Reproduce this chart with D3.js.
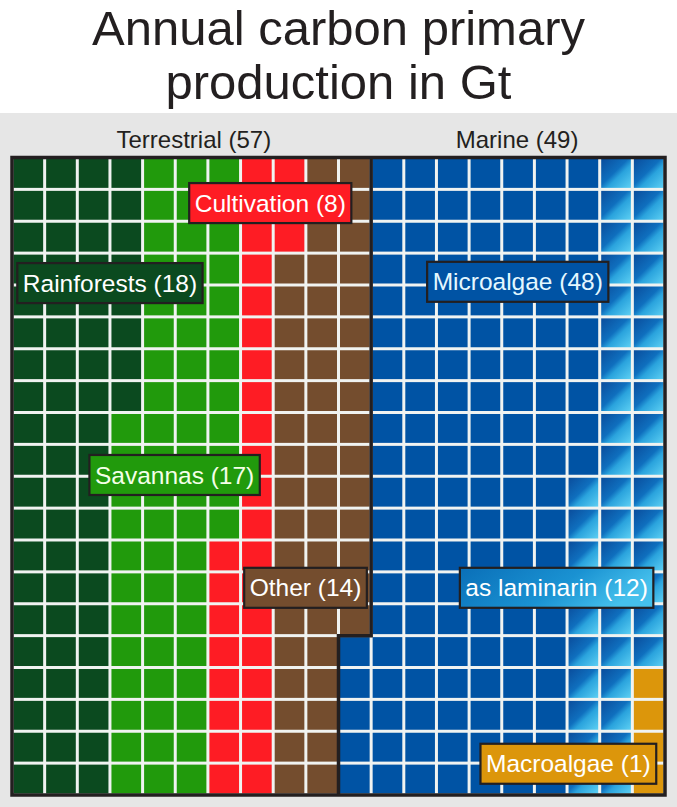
<!DOCTYPE html>
<html><head><meta charset="utf-8">
<script src="https://cdn.jsdelivr.net/npm/d3@7"></script>
<style>body{margin:0;background:#fff}svg{display:block}text{font-family:"Liberation Sans",Arial,Helvetica,sans-serif}</style>
</head><body><svg id="c" width="677" height="807"></svg>
<script>
// ---- data ----
const titleLines = ["Annual carbon primary", "production in Gt"];
const groups = ["Terrestrial", "Marine"];
const groupValues = [57, 49];
const categories = ["Rainforests", "Savannas", "Cultivation", "Other", "Microalgae", "as laminarin", "Macroalgae"];
const categoryValues = [18, 17, 8, 14, 48, 12, 1];
// cells of the 20 x 20 waffle each part fills (column-major fill)
const cellCounts = [68, 64, 31, 52, 135, 46, 4];
const cellGroup = [0, 0, 0, 0, 1, 1, 1];
const gridCols = 20, gridRows = 20;

// ---- layout / style ----
const W = 677, H = 807;
const colors = ["#0b4a1f", "#219a0c", "#fe1c24", "#744d2e", "#0053a4", "url(#lamCell)", "#dc960b"];
const labelFills = ["#0b4a1f", "#219a0c", "#fe1c24", "#744d2e", "#0053a4", "url(#lamLabel)", "#dc960b"];
const labelTextColors = ["#fff", "#f4ffe8", "#fff", "#fff", "#e4f8ff", "#fff", "#fff"];
const labelAnchors = [[3.0, 3.94], [4.98, 9.96], [7.91, 1.43], [8.99, 13.5], [15.49, 3.9], [16.68, 13.5], [17.04, 19.02]];
const groupAnchors = [[5.57, -0.3], [15.47, -0.3]];
const ink = "#231f20";

const svg = d3.select("#c");
const defs = svg.append("defs");
const g1 = defs.append("linearGradient").attr("id", "lamCell")
  .attr("x1", 0).attr("y1", 0).attr("x2", 1).attr("y2", 1);
[[0, "#0a4d9c"], [0.45, "#0f6fbe"], [0.6, "#2aa3dd"], [1, "#5ccff3"]]
  .forEach(s => g1.append("stop").attr("offset", s[0]).attr("stop-color", s[1]));
const g2 = defs.append("linearGradient").attr("id", "lamLabel")
  .attr("x1", 0).attr("y1", 0).attr("x2", 1).attr("y2", 0.3);
[[0, "#0a6fb8"], [0.6, "#1a92d2"], [1, "#45c0ec"]]
  .forEach(s => g2.append("stop").attr("offset", s[0]).attr("stop-color", s[1]));

// title
svg.append("g").selectAll("text").data(titleLines).join("text")
  .attr("x", W / 2).attr("y", (d, i) => 45 + i * 54)
  .attr("text-anchor", "middle").attr("font-size", 49).attr("fill", ink)
  .text(d => d);

// gray panel
svg.append("rect").attr("x", 0).attr("y", 113).attr("width", W).attr("height", H - 113).attr("fill", "#e6e6e6");

// scales
const x = d3.scaleLinear().domain([0, gridCols]).range([12, 665]);
const y = d3.scaleLinear().domain([0, gridRows]).range([157.5, 795]);

// group headings
svg.append("g").selectAll("text").data(groups).join("text")
  .attr("x", (d, i) => x(groupAnchors[i][0]))
  .attr("y", (d, i) => y(groupAnchors[i][1]))
  .attr("text-anchor", "middle").attr("font-size", 24).attr("fill", ink)
  .text((d, i) => `${d} (${groupValues[i]})`);

// cells
const cells = [];
let idx = 0;
cellCounts.forEach((n, c) => {
  for (let k = 0; k < n; k++, idx++) {
    cells.push({ col: Math.floor(idx / gridRows), row: idx % gridRows, cat: c });
  }
});

svg.append("rect").attr("x", x(0)).attr("y", y(0))
  .attr("width", x(gridCols) - x(0)).attr("height", y(gridRows) - y(0))
  .attr("fill", "#f0f3f1");

const gap = 1.5;
svg.append("g").selectAll("rect").data(cells).join("rect")
  .attr("x", d => x(d.col) + gap)
  .attr("y", d => y(d.row) + gap)
  .attr("width", d => x(d.col + 1) - x(d.col) - 2 * gap)
  .attr("height", d => y(d.row + 1) - y(d.row) - 2 * gap)
  .attr("fill", d => colors[d.cat]);

// group separator
const terrCells = d3.sum(cellCounts.filter((n, i) => cellGroup[i] === 0));
const sepCol = Math.floor(terrCells / gridRows), sepRow = terrCells % gridRows;
const p = d3.path();
p.moveTo(x(sepCol + 1), y(0));
p.lineTo(x(sepCol + 1), y(sepRow));
p.lineTo(x(sepCol), y(sepRow));
p.lineTo(x(sepCol), y(gridRows));
svg.append("path").attr("d", p.toString()).attr("fill", "none")
  .attr("stroke", ink).attr("stroke-width", 3.5);

// outer border
svg.append("rect").attr("x", x(0)).attr("y", y(0))
  .attr("width", x(gridCols) - x(0)).attr("height", y(gridRows) - y(0))
  .attr("fill", "none").attr("stroke", ink).attr("stroke-width", 3.5);

// labels
const lg = svg.append("g").selectAll("g").data(categories).join("g")
  .attr("transform", (d, i) => `translate(${x(labelAnchors[i][0])},${y(labelAnchors[i][1])})`);
lg.append("rect").attr("class", "bx");
lg.append("text").attr("text-anchor", "middle").attr("font-size", 24.5)
  .attr("y", 8.6)
  .attr("fill", (d, i) => labelTextColors[i])
  .text((d, i) => `${d} (${categoryValues[i]})`);
lg.each(function (d, i) {
  const t = d3.select(this).select("text").node();
  const w = t.getComputedTextLength() + 11, h = 40;
  d3.select(this).select("rect.bx")
    .attr("x", -w / 2).attr("y", -h / 2).attr("width", w).attr("height", h)
    .attr("fill", labelFills[i]).attr("stroke", ink).attr("stroke-width", 2.2);
});
</script></body></html>
